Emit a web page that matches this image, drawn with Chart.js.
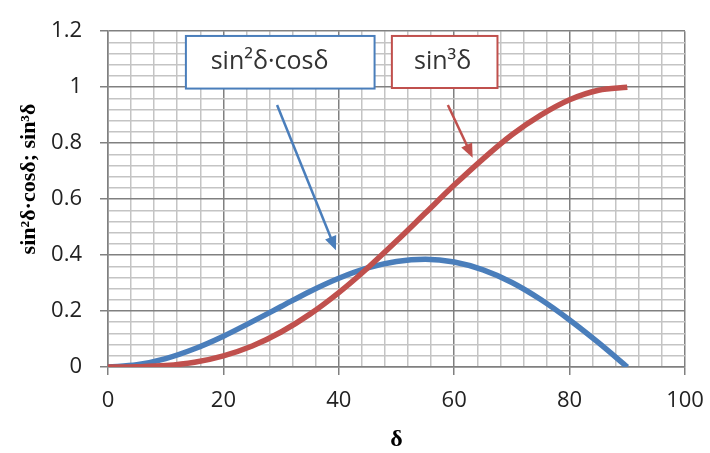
<!DOCTYPE html>
<html>
<head>
<meta charset="utf-8">
<script src="https://cdn.jsdelivr.net/npm/chart.js@4.4.0/dist/chart.umd.min.js"></script>
<style>
  html, body { margin: 0; padding: 0; background: #fff; }
  #c { display: block; }
</style>
</head>
<body>
<canvas id="c" width="710" height="453"></canvas>
<script>
// values, delta in degrees
const deltaDeg = [0, 5, 10, 15, 20, 25, 30, 35, 40, 45, 50, 55, 60, 65, 70, 75, 80, 85, 90];
const sin2cos = [0, 0.008, 0.03, 0.065, 0.11, 0.162, 0.216, 0.27, 0.317, 0.354, 0.377, 0.385, 0.375, 0.347, 0.302, 0.241, 0.168, 0.087, 0];
const sin3 = [0, 0.001, 0.005, 0.017, 0.04, 0.075, 0.125, 0.189, 0.266, 0.354, 0.45, 0.55, 0.65, 0.744, 0.83, 0.9, 0.955, 0.989, 1];

const xTicks = [0, 20, 40, 60, 80, 100];
const yTicks = [0, 0.2, 0.4, 0.6, 0.8, 1, 1.2];

const labelBlue = 'sin²δ·cosδ';
const labelRed = 'sin³δ';
const yTitle = 'sin²δ·cosδ; sin³δ';
const xTitle = 'δ';

const BLUE = '#4a7ebb';
const RED = '#c0504d';

const isMajor = (v, step) => Math.abs(v / step - Math.round(v / step)) < 1e-6;

const toPoints = (ys) => deltaDeg.map((d, i) => ({ x: d, y: ys[i] }));

// callout boxes and arrows (data coordinates); textX is where the text is centred
const callouts = [
  { text: labelBlue, color: BLUE, box: [13.5, 46.2, 1.183, 0.995], textX: 28, arrow: [29.3, 0.936, 39.5, 0.417] },
  { text: labelRed, color: RED, box: [49.2, 67.5, 1.183, 0.997], textX: 58, arrow: [58.9, 0.936, 63.2, 0.748] }
];

const calloutPlugin = {
  id: 'callouts',
  afterDatasetsDraw(chart) {
    const { ctx, scales } = chart;
    const x = scales.x, y = scales.y;
    ctx.save();
    callouts.forEach(c => {
      // arrow
      const x1 = x.getPixelForValue(c.arrow[0]), y1 = y.getPixelForValue(c.arrow[1]);
      const x2 = x.getPixelForValue(c.arrow[2]), y2 = y.getPixelForValue(c.arrow[3]);
      const ang = Math.atan2(y2 - y1, x2 - x1);
      const head = 14, half = 6;
      ctx.strokeStyle = c.color;
      ctx.fillStyle = c.color;
      ctx.lineWidth = 2.5;
      ctx.beginPath();
      ctx.moveTo(x1, y1);
      ctx.lineTo(x2 - Math.cos(ang) * head * 0.8, y2 - Math.sin(ang) * head * 0.8);
      ctx.stroke();
      ctx.beginPath();
      ctx.moveTo(x2, y2);
      ctx.lineTo(x2 - Math.cos(ang) * head - Math.sin(ang) * half, y2 - Math.sin(ang) * head + Math.cos(ang) * half);
      ctx.lineTo(x2 - Math.cos(ang) * head + Math.sin(ang) * half, y2 - Math.sin(ang) * head - Math.cos(ang) * half);
      ctx.closePath();
      ctx.fill();
      // box
      const bl = x.getPixelForValue(c.box[0]), br = x.getPixelForValue(c.box[1]);
      const bt = y.getPixelForValue(c.box[2]), bb = y.getPixelForValue(c.box[3]);
      ctx.fillStyle = '#fff';
      ctx.fillRect(bl, bt, br - bl, bb - bt);
      ctx.lineWidth = 2;
      ctx.strokeRect(bl, bt, br - bl, bb - bt);
      ctx.fillStyle = '#333';
      ctx.font = '25px "Open Sans", sans-serif';
      ctx.textAlign = 'center';
      ctx.textBaseline = 'middle';
      ctx.fillText(c.text, x.getPixelForValue(c.textX), (bt + bb) / 2);
    });
    ctx.restore();
  },
  afterDraw(chart) {
    const { ctx } = chart;
    ctx.save();
    ctx.fillStyle = '#000';
    ctx.textAlign = 'center';
    ctx.textBaseline = 'middle';
    ctx.font = 'bold 22px "Liberation Serif", serif';
    ctx.translate(29, 179);
    ctx.rotate(-Math.PI / 2);
    ctx.fillText(yTitle, 0, 0);
    ctx.restore();
    ctx.save();
    ctx.fillStyle = '#000';
    ctx.textAlign = 'center';
    ctx.textBaseline = 'middle';
    ctx.font = 'bold 24px "Liberation Serif", serif';
    ctx.fillText(xTitle, (chart.chartArea.left + chart.chartArea.right) / 2, 440);
    ctx.restore();
  }
};

new Chart(document.getElementById('c'), {
  type: 'line',
  data: {
    datasets: [
      {
        label: labelRed,
        data: toPoints(sin3),
        borderColor: RED,
        borderWidth: 5.5,
        pointRadius: 0,
        cubicInterpolationMode: 'monotone',
        fill: false
      },
      {
        label: labelBlue,
        data: toPoints(sin2cos),
        borderColor: BLUE,
        borderWidth: 5.5,
        pointRadius: 0,
        cubicInterpolationMode: 'monotone',
        fill: false
      }
    ]
  },
  options: {
    responsive: false,
    animation: false,
    devicePixelRatio: 1,
    layout: { padding: { top: 22, right: 25, bottom: 0, left: 0 } },
    plugins: {
      legend: { display: false },
      tooltip: { enabled: false }
    },
    scales: {
      x: {
        type: 'linear',
        min: 0,
        max: 100,
        afterFit: (s) => { s.height = 86; s.paddingRight = 0; s.paddingLeft = 0; },
        border: { display: true, color: '#808080', width: 1.5 },
        grid: {
          color: (c) => isMajor(c.tick.value, 20) ? '#808080' : '#c4c4c4',
          tickColor: (c) => isMajor(c.tick.value, 20) ? '#808080' : 'rgba(0,0,0,0)',
          lineWidth: 1.5,
          tickLength: 8
        },
        ticks: {
          stepSize: 4,
          autoSkip: false,
          maxRotation: 0,
          padding: 13,
          color: '#222',
          font: { family: '"Open Sans", sans-serif', size: 22 },
          callback: (v) => xTicks.some(t => Math.abs(t - v) < 1e-6) ? String(Math.round(v)) : ''
        }
      },
      y: {
        min: 0,
        max: 1.2,
        afterFit: (s) => { s.width = 108; },
        border: { display: true, color: '#808080', width: 1.5 },
        grid: {
          color: (c) => isMajor(c.tick.value, 0.2) ? '#808080' : '#c4c4c4',
          tickColor: (c) => isMajor(c.tick.value, 0.2) ? '#808080' : 'rgba(0,0,0,0)',
          lineWidth: 1.5,
          tickLength: 8
        },
        ticks: {
          stepSize: 0.04,
          autoSkip: false,
          padding: 18,
          color: '#222',
          font: { family: '"Open Sans", sans-serif', size: 22 },
          callback: (v) => yTicks.some(t => Math.abs(t - v) < 1e-6) ? String(Number(v.toFixed(1))) : ''
        }
      }
    }
  },
  plugins: [calloutPlugin]
});
</script>
</body>
</html>
